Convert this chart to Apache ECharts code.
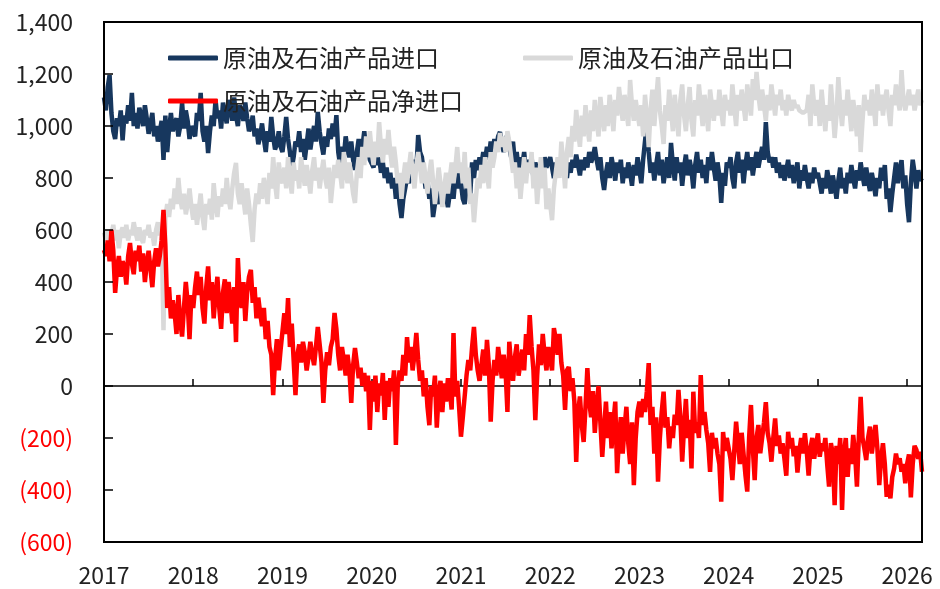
<!DOCTYPE html>
<html>
<head>
<meta charset="utf-8">
<script src="https://cdn.jsdelivr.net/npm/echarts@6/dist/echarts.min.js"></script>
<style>
  html, body { margin: 0; padding: 0; background: #fff; }
  #oilTrade { width: 940px; height: 589px; }
</style>
</head>
<body>
<div id="oilTrade"></div>
<script>
// 周度数据，每年按48个点排布
var seriesNames = ['原油及石油产品进口', '原油及石油产品出口', '原油及石油产品净进口'];
var yearLabels = ['2017', '2018', '2019', '2020', '2021', '2022', '2023', '2024', '2025', '2026'];
var firstYear = 2017;
var pointsPerYear = 48;

var importVals = [
  // 2017
  1110, 1060, 1150, 1196, 1050, 980, 950, 1030, 1000, 1060, 945, 1040, 1010, 1080, 1020, 1127, 1000, 1050, 990, 1070, 1040, 1000, 1080, 1030,
  970, 1010, 1050, 960, 1000, 940, 980, 1020, 870, 1040, 900, 990, 1050, 980, 1010, 1030, 960, 1000, 1090, 990, 1060, 1020, 950, 1000,
  // 2018
  1000, 960, 1050, 1020, 1127, 980, 940, 1000, 896, 980, 1040, 1000, 1100, 1030, 1060, 990, 1090, 1050, 1010, 1100, 1070, 1020, 1110, 1040,
  1000, 1080, 1060, 1020, 1090, 1030, 980, 1000, 1040, 960, 990, 930, 960, 1010, 950, 900, 980, 940, 1035, 960, 910, 930, 980, 920,
  // 2019
  900, 960, 1035, 950, 900, 838, 880, 940, 920, 980, 900, 950, 870, 930, 990, 910, 960, 1000, 940, 1054, 980, 930, 890, 960,
  920, 990, 950, 1010, 960, 1042, 900, 850, 920, 880, 960, 910, 880, 940, 870, 831, 900, 950, 880, 920, 980, 900, 940, 870,
  // 2020
  870, 840, 900, 850, 880, 820, 860, 800, 840, 780, 820, 760, 800, 720, 780, 700, 646, 720, 760, 800, 780, 840, 800, 870,
  830, 965, 900, 880, 820, 760, 790, 720, 760, 650, 700, 740, 700, 760, 720, 770, 730, 688, 740, 780, 720, 800, 760, 830,
  // 2021
  780, 720, 700, 760, 820, 740, 860, 800, 869, 830, 880, 850, 900, 870, 920, 880, 940, 900, 950, 910, 960, 977, 930, 900,
  950, 965, 920, 880, 940, 860, 900, 830, 880, 850, 900, 820, 870, 840, 880, 800, 860, 830, 780, 850, 820, 880, 840, 860,
  // 2022
  880, 840, 800, 860, 820, 870, 830, 880, 850, 800, 860, 820, 870, 840, 890, 850, 810, 870, 830, 880, 840, 900, 860, 880,
  919, 870, 830, 880, 800, 754, 820, 860, 800, 880, 840, 790, 860, 820, 870, 780, 840, 800, 860, 820, 770, 850, 810, 880,
  // 2023
  830, 780, 870, 940, 1010, 900, 820, 860, 790, 850, 900, 810, 870, 780, 830, 880, 800, 935, 850, 790, 880, 820, 860, 770,
  840, 890, 810, 870, 830, 760, 850, 900, 820, 870, 800, 850, 780, 880, 830, 900, 840, 790, 860, 810, 704, 820, 770, 860,
  // 2024
  840, 880, 800, 760, 860, 900, 820, 870, 780, 850, 900, 830, 880, 810, 860, 900, 840, 880, 920, 870, 1015, 900, 860, 880,
  840, 880, 820, 860, 800, 850, 790, 830, 870, 800, 850, 780, 820, 860, 760, 830, 790, 850, 800, 760, 820, 780, 840, 800,
  // 2025
  820, 780, 740, 800, 760, 830, 790, 740, 810, 770, 720, 790, 840, 760, 800, 740, 820, 780, 850, 800, 760, 830, 790, 860,
  810, 770, 840, 790, 750, 820, 780, 730, 800, 760, 840, 790, 850, 720, 760, 669, 740, 800, 860, 780, 830, 869, 760, 810,
  // 2026
  700, 630, 780, 870, 820, 760, 830, 790, 800
];

var exportVals = [
  // 2017
  590, 560, 600, 540, 580, 620, 560, 600, 530, 590, 610, 570, 620, 560, 600, 580, 630, 590, 560, 610, 570, 550, 600, 580,
  620, 570, 590, 540, 600, 630, 580, 610, 215, 650, 700, 650, 720, 680, 760, 700, 800, 720, 680, 740, 660, 700, 760, 690,
  // 2018
  640, 700, 620, 680, 740, 650, 600, 700, 660, 720, 640, 780, 700, 650, 730, 690, 760, 700, 800, 720, 680, 760, 820, 858,
  740, 700, 780, 720, 660, 760, 700, 620, 554, 680, 740, 700, 780, 720, 800, 760, 700, 820, 760, 880, 780, 720, 860, 800,
  // 2019
  780, 840, 760, 880, 800, 740, 860, 790, 830, 760, 880, 820, 770, 850, 800, 740, 830, 880, 790, 840, 760, 820, 870, 800,
  760, 840, 704, 780, 850, 800, 870, 820, 760, 900, 830, 780, 860, 800, 740, 704, 820, 880, 800, 920, 850, 960, 880, 980,
  // 2020
  900, 850, 940, 880, 1015, 920, 860, 950, 890, 985, 900, 840, 920, 860, 780, 820, 720, 800, 860, 780, 840, 900, 820, 760,
  850, 900, 840, 780, 860, 800, 740, 820, 870, 790, 700, 760, 840, 780, 688, 760, 820, 740, 800, 860, 780, 840, 919, 820,
  // 2021
  860, 780, 900, 760, 840, 700, 740, 630, 720, 800, 760, 850, 780, 880, 820, 760, 900, 840, 880, 940, 900, 973, 920, 960,
  900, 980, 940, 880, 820, 860, 760, 840, 720, 800, 880, 780, 860, 820, 900, 760, 840, 700, 800, 880, 760, 840, 680, 760,
  // 2022
  700, 638, 760, 820, 880, 800, 940, 860, 760, 900, 958, 880, 1000, 940, 1062, 980, 920, 1040, 960, 1080, 1000, 940, 1060, 980,
  1100, 1020, 960, 1112, 1040, 980, 1080, 1000, 1120, 1060, 980, 1100, 1040, 1150, 1080, 1020, 1120, 1060, 1000, 1177, 1080, 1020, 1100, 1050,
  // 2023
  1000, 1080, 960, 1120, 1040, 919, 1060, 1140, 1000, 1100, 1188, 1060, 1000, 931, 1080, 1020, 1140, 1060, 980, 1120, 1040, 960, 1100, 1160,
  1040, 980, 1080, 1150, 1020, 960, 1100, 1040, 1160, 1080, 1000, 1120, 1060, 980, 1140, 1080, 1020, 1100, 1040, 1140, 1060, 1000, 1120, 1060,
  // 2024
  1100, 1040, 1160, 1080, 1000, 1120, 1060, 1140, 1080, 1020, 1160, 1100, 1040, 1180, 1100, 1208, 1120, 1060, 1140, 1080, 1020, 1120, 1060, 1160,
  1100, 1040, 1120, 1080, 1140, 1060, 1100, 1040, 1120, 1080, 1060, 1100, 1070, 1080, 1060, 1055, 1050, 1045, 1060, 1120, 1000, 1160, 1080, 1040,
  // 2025
  1100, 1000, 1140, 1060, 980, 1080, 1020, 1160, 1060, 954, 1040, 1188, 1080, 1000, 1100, 1040, 1140, 1060, 980, 1100, 1040, 960, 1080, 900,
  1020, 1120, 1060, 1100, 1040, 1140, 1080, 1000, 1160, 1060, 1120, 1040, 1100, 1140, 1060, 1000, 1120, 1080, 1160, 1100, 1060, 1215, 1100, 1060,
  // 2026
  1100, 1140, 1080, 1120, 1060, 1100, 1140, 1080, 1100
];

var netVals = [
  // 2017
  523, 500, 560, 480, 600, 520, 358, 450, 500, 420, 480, 460, 390, 500, 550, 470, 430, 520, 480, 540, 440, 510, 400, 470,
  520, 450, 380, 480, 530, 460, 500, 560, 677, 540, 300, 380, 260, 330, 280, 200, 350, 250, 190, 300, 400, 320, 180, 350,
  // 2018
  300, 380, 440, 350, 420, 300, 240, 380, 460, 330, 400, 260, 350, 420, 300, 220, 360, 410, 280, 400, 330, 240, 380, 169,
  492, 350, 300, 400, 250, 360, 420, 447, 320, 380, 260, 340, 280, 230, 300, 180, 250, 150, 120, -35, 100, 180, 60, 140,
  // 2019
  140, 280, 200, 338, 150, 240, 100, -35, 120, 160, 90, 170, 130, 60, 110, 170, 120, 80, 150, 227, 160, 90, -65, 60,
  130, 80, 150, 180, 281, 220, 120, 60, 150, 100, 40, 120, 60, -65, 80, 146, 90, 30, 70, 0, 50, -20, 40, -169,
  // 2020
  20, -60, 40, -100, 10, -36, 50, -130, 20, -80, 30, -20, 60, -227, 0, 60, 20, 120, 40, 188, 90, 150, 60, 120,
  204, 100, 20, 60, -40, 30, -80, -151, 0, -40, 40, -160, -30, 20, -100, 10, -60, 30, -20, -90, 204, -40, 20, -80,
  // 2021
  -195, -120, -40, 40, 100, 60, 150, 227, 120, 60, 20, 80, 140, 40, 177, 80, -137, 20, 100, 40, 150, 90, 30, 120,
  60, -100, 170, 80, 20, 110, 160, 40, 90, 140, 60, 200, 120, 273, 150, 60, -131, 40, 160, 80, 200, 120, 60, 150,
  // 2022
  150, 60, 223, 180, 120, 200, 90, 40, -92, 60, 73, -20, 30, -60, -292, -100, -40, -150, -215, -80, 69, -60, -120, -20,
  -180, -80, 0, -140, -273, -160, -60, -200, -100, -240, -140, -60, -335, -200, -120, -260, -160, -80, -220, -300, -140, -381, -200, -100,
  // 2023
  -60, -120, -50, -100, -20, 88, -150, -80, -260, -120, -368, -200, -100, -22, -160, -120, -240, -156, -200, -110, -150, -15, -120, -291,
  -160, -50, -200, -130, -317, -22, -180, -140, -200, 42, -150, -100, -169, -220, -330, -180, -240, -200, -260, -300, -445, -177, -250, -200,
  // 2024
  -200, -280, -362, -250, -137, -220, -300, -180, -260, -340, -406, -200, -73, -240, -362, -200, -150, -259, -200, -140, -62, -180, -220, -291,
  -200, -125, -230, -190, -260, -220, -280, -345, -176, -240, -200, -270, -230, -333, -250, -200, -260, -182, -250, -345, -240, -200, -280, -230,
  // 2025
  -182, -272, -220, -250, -200, -300, -387, -220, -260, -458, -230, -300, -200, -477, -260, -200, -349, -240, -300, -188, -260, -387, -200, -42,
  -200, -240, -285, -200, -156, -260, -200, -150, -240, -381, -280, -220, -300, -426, -380, -432, -350, -317, -260, -300, -278, -330, -300, -374,
  // 2026
  -300, -263, -428, -300, -230, -246, -280, -253, -330
];

var fontFamily = '"Noto Sans CJK SC", "Noto Sans", sans-serif';
var lastX = firstYear + (importVals.length - 1) / pointsPerYear;

function frameLine() {
  return { color: '#000', width: 2 };
}

function toPoints(vals) {
  return vals.map(function (v, i) {
    return [firstYear + i / pointsPerYear, v];
  });
}

function fmtNum(v) {
  var s = String(Math.abs(v)).replace(/\B(?=(\d{3})+(?!\d))/g, ',');
  return v < 0 ? '{neg|(' + s + ')}' : s;
}

function makeLine(name, color, vals) {
  return {
    name: name,
    type: 'line',
    symbol: 'none',
    z: 2,
    data: toPoints(vals),
    lineStyle: { color: color, width: 4.5 },
    color: color
  };
}

// 只画框线的辅助轴
function frameAxis(pos, isX) {
  return {
    type: 'value',
    position: pos,
    z: 10,
    min: isX ? firstYear : -600,
    max: isX ? lastX : 1400,
    axisLine: { show: true, onZero: false, lineStyle: frameLine() },
    axisTick: { show: false },
    axisLabel: { show: false },
    splitLine: { show: false }
  };
}

var myChart = echarts.init(document.getElementById('oilTrade'));

var legendText = { fontSize: 24, color: '#222', fontFamily: fontFamily };

var option = {
  animation: false,
  grid: {
    left: 104,
    top: 22,
    right: 18,
    bottom: 47,
    show: true,
    borderColor: '#000',
    borderWidth: 2,
    z: 10,
    outerBoundsMode: 'none'
  },
  legend: [
    {
      data: [seriesNames[0], seriesNames[1]],
      left: 163,
      top: 41,
      itemWidth: 50,
      itemHeight: 5,
      itemGap: 84,
      icon: 'roundRect',
      textStyle: legendText
    },
    {
      data: [seriesNames[2]],
      left: 163,
      top: 84,
      itemWidth: 50,
      itemHeight: 5,
      icon: 'roundRect',
      textStyle: legendText
    }
  ],
  xAxis: [
    {
      type: 'value',
      position: 'bottom',
      z: 10,
      min: firstYear,
      max: lastX,
      interval: 1,
      axisLine: { show: true, onZero: false, lineStyle: frameLine() },
      axisTick: { show: false },
      splitLine: { show: false },
      axisLabel: {
        margin: 22,
        fontSize: 23,
        color: '#222',
        fontFamily: fontFamily,
        formatter: function (v) {
          var s = String(Math.round(v * 1000) / 1000);
          return yearLabels.indexOf(s) >= 0 ? s : '';
        }
      }
    },
    {
      // 零轴线和刻度
      type: 'value',
      position: 'bottom',
      min: firstYear,
      max: lastX,
      interval: 1,
      axisLine: { show: true, onZero: true, lineStyle: { color: '#000', width: 1.5 } },
      axisTick: { show: true, inside: true, length: 7, lineStyle: { color: '#000', width: 1.5 } },
      axisLabel: { show: false },
      splitLine: { show: false }
    },
    frameAxis('top', true)
  ],
  yAxis: [
    {
      type: 'value',
      position: 'left',
      z: 10,
      min: -600,
      max: 1400,
      interval: 200,
      axisLine: { show: true, onZero: false, lineStyle: frameLine() },
      axisTick: { show: true, inside: true, length: 9, lineStyle: { color: '#000', width: 1.5 } },
      splitLine: { show: false },
      axisLabel: {
        margin: 31,
        fontSize: 23,
        color: '#222',
        fontFamily: fontFamily,
        formatter: function (v) {
          return fmtNum(v);
        },
        rich: {
          neg: { color: '#FF0000', fontSize: 23, fontFamily: fontFamily }
        }
      }
    },
    frameAxis('right', false)
  ],
  series: [
    makeLine(seriesNames[0], '#17375E', importVals),
    makeLine(seriesNames[1], '#D9D9D9', exportVals),
    makeLine(seriesNames[2], '#FF0000', netVals)
  ]
};

myChart.setOption(option);
</script>
</body>
</html>
